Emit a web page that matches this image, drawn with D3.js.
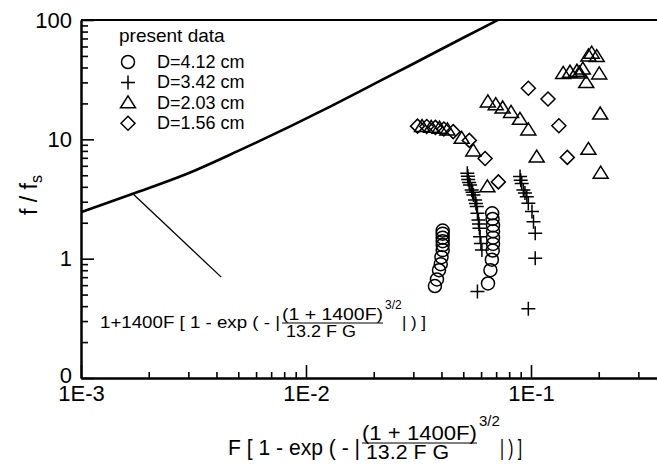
<!DOCTYPE html>
<html>
<head>
<meta charset="utf-8">
<script src="https://cdn.jsdelivr.net/npm/d3@7"></script>
<style>
  body { margin: 0; background: #fff; }
  svg { display: block; font-family: "Liberation Sans", Arial, sans-serif; }
</style>
</head>
<body>
<div id="canvas"></div>
<script>
// values: [F, f/fs]
const circles412 = [
  [0.0374, 0.59], [0.0382, 0.67], [0.0390, 0.80], [0.0397, 0.90], [0.0400, 1.03],
  [0.0405, 1.18], [0.0405, 1.30], [0.0405, 1.40], [0.0405, 1.50], [0.0405, 1.62], [0.0405, 1.72],
  [0.0644, 0.62], [0.0660, 0.80], [0.0670, 0.98], [0.0676, 1.17], [0.0678, 1.33], [0.0678, 1.50],
  [0.0678, 1.70], [0.0678, 1.90], [0.0675, 2.15], [0.0672, 2.40]
];
const crosses342 = [
  [0.0521, 5.2], [0.0524, 4.9], [0.0526, 4.6], [0.0531, 4.35], [0.0536, 4.15], [0.0545, 3.77],
  [0.0550, 3.6], [0.0555, 3.42], [0.0564, 3.10], [0.0569, 2.9], [0.0574, 2.73], [0.0578, 2.40],
  [0.0584, 2.11], [0.0587, 1.95], [0.0590, 1.80], [0.0594, 1.53], [0.0599, 1.34],
  [0.0605, 1.18], [0.0578, 0.53],
  [0.0894, 4.87], [0.0900, 4.55], [0.0909, 4.27], [0.0925, 3.77], [0.0940, 3.55], [0.0958, 3.31],
  [0.0973, 2.91], [0.1010, 2.48], [0.1026, 2.04], [0.1044, 1.63], [0.1044, 1.01], [0.0973, 0.38]
];
const triangles203 = [
  [0.0328, 12.8], [0.0360, 12.6], [0.0392, 12.4], [0.0425, 12.0], [0.0492, 10.2], [0.0554, 8.0],
  [0.0640, 4.0],
  [0.0643, 20.6], [0.0697, 19.5], [0.0748, 18.3], [0.0815, 16.8], [0.0893, 14.7], [0.0973, 12.0],
  [0.106, 7.1],
  [0.139, 35.7], [0.149, 36.5], [0.160, 37.2], [0.164, 36.0], [0.170, 38.8], [0.176, 29.9],
  [0.180, 50.0], [0.186, 52.7], [0.196, 49.4], [0.201, 35.3], [0.203, 16.3], [0.180, 8.25], [0.204, 5.2]
];
const diamonds156 = [
  [0.0313, 12.9], [0.0344, 12.8], [0.0376, 12.6], [0.0410, 12.2], [0.0451, 11.6], [0.0532, 9.8],
  [0.0625, 6.9], [0.0716, 4.4],
  [0.0973, 26.8], [0.119, 21.8], [0.133, 13.0], [0.145, 7.06]
];
// thick curve 1+1400F[...], read at a few F
const curvePts = [
  [0.001, 2.45], [0.0017, 3.5], [0.003, 5.2], [0.005, 8.0], [0.0128, 18.8],
  [0.02, 29], [0.03, 43], [0.05, 71], [0.069, 97], [0.08, 112]
];
const legendLabels = ['D=4.12 cm', 'D=3.42 cm', 'D=2.03 cm', 'D=1.56 cm'];
const xMajor = [1e-3, 1e-2, 1e-1];
const xMajorLabels = ['1E-3', '1E-2', '1E-1'];
const yMajor = [0.1, 1, 10, 100];
const yMajorLabels = ['0', '1', '10', '100'];

const width = 657;
const height = 464;
const margin = { top: 20, left: 81, bottom: 378 };

const svg = d3.select('#canvas')
  .append('svg')
    .attr('width', width)
    .attr('height', height);

const x = d3.scaleLog().domain([1e-3, 1]).range([margin.left, margin.left + 675]);
const y = d3.scaleLog().domain([0.1, 100]).range([margin.bottom, margin.top]);

svg.append('clipPath').attr('id', 'plot')
  .append('rect')
    .attr('x', margin.left).attr('y', margin.top)
    .attr('width', width - margin.left).attr('height', margin.bottom - margin.top);

// minor ticks
const minorX = [];
xMajor.forEach(d => { for (let k = 2; k <= 9; k++) minorX.push(d * k) });
const minorY = [];
[0.1, 1, 10].forEach(d => { for (let k = 2; k <= 9; k++) minorY.push(d * k) });

function styleAxis(g) {
  g.selectAll('path, line').attr('stroke', '#000').attr('stroke-width', 1.6);
  g.select('.domain').attr('stroke-width', 2);
}

svg.append('g')
  .attr('transform', `translate(0,${margin.bottom})`)
  .call(d3.axisBottom(x).tickValues(minorX).tickSize(-6).tickSizeOuter(0).tickFormat(''))
  .call(styleAxis);
svg.append('g')
  .attr('transform', `translate(0,${margin.bottom})`)
  .call(d3.axisBottom(x).tickValues(xMajor).tickSize(-13).tickSizeOuter(0).tickPadding(7)
    .tickFormat((d, i) => xMajorLabels[i]))
  .call(styleAxis)
  .call(g => g.selectAll('text').attr('font-size', 22).attr('fill', '#000')
    .attr('font-family', '"Liberation Sans", Arial, sans-serif'));

svg.append('g')
  .attr('transform', `translate(${margin.left},0)`)
  .call(d3.axisLeft(y).tickValues(minorY).tickSize(-7).tickSizeOuter(0).tickFormat(''))
  .call(styleAxis);
svg.append('g')
  .attr('transform', `translate(${margin.left},0)`)
  .call(d3.axisLeft(y).tickValues(yMajor).tickSize(-13).tickSizeOuter(0).tickPadding(9)
    .tickFormat((d, i) => yMajorLabels[i]))
  .call(styleAxis)
  .call(g => g.selectAll('text').attr('font-size', 22).attr('fill', '#000')
    .attr('font-family', '"Liberation Sans", Arial, sans-serif'))
  .call(g => g.selectAll('.tick text').filter(d => d === 0.1).attr('dy', '0.2em'));

// top frame line
svg.append('line')
  .attr('x1', margin.left).attr('x2', x(1))
  .attr('y1', y(100)).attr('y2', y(100))
  .attr('stroke', '#000').attr('stroke-width', 2);

// thick curve
svg.append('path')
  .datum(curvePts)
  .attr('clip-path', 'url(#plot)')
  .attr('fill', 'none')
  .attr('stroke', '#000')
  .attr('stroke-width', 2.6)
  .attr('d', d3.line().x(d => x(d[0])).y(d => y(d[1])).curve(d3.curveMonotoneX));

// pointer line to the formula
svg.append('line')
  .attr('x1', x(0.0017)).attr('y1', y(3.5))
  .attr('x2', x(0.0042)).attr('y2', y(0.7))
  .attr('stroke', '#000').attr('stroke-width', 1.3);

// markers
const shapes = {
  circle: 'M6.5,0A6.5,6.5 0 1,1 -6.5,0A6.5,6.5 0 1,1 6.5,0Z',
  cross: 'M-7,0H7M0,-7V7',
  triangle: 'M0,-7L7.5,5H-7.5Z',
  diamond: 'M0,-7L7,0L0,7L-7,0Z'
};
const series = [
  { data: circles412, shape: shapes.circle },
  { data: crosses342, shape: shapes.cross },
  { data: triangles203, shape: shapes.triangle },
  { data: diamonds156, shape: shapes.diamond }
];
series.forEach(s => {
  svg.append('g').selectAll('path')
    .data(s.data)
    .enter()
    .append('path')
      .attr('transform', d => `translate(${x(d[0])},${y(d[1])})`)
      .attr('d', s.shape)
      .attr('fill', 'none')
      .attr('stroke', '#000')
      .attr('stroke-width', 1.5);
});

// legend
const legend = svg.append('g');
legend.append('text')
  .attr('x', 119).attr('y', 42)
  .attr('font-size', 19)
  .text('present data');
series.forEach((s, i) => {
  const cy = 62 + i * 20.4;
  legend.append('path')
    .attr('transform', `translate(128,${cy})`)
    .attr('d', s.shape)
    .attr('fill', 'none').attr('stroke', '#000').attr('stroke-width', 1.5);
  legend.append('text')
    .attr('x', 157).attr('y', cy + 6)
    .attr('font-size', 18)
    .text(legendLabels[i]);
});

// formula: lead text, fraction, power, closing brackets
function formula(g, o) {
  g.append('text').attr('x', o.x).attr('y', o.base).attr('font-size', o.fs)
    .attr('textLength', o.leadW).attr('lengthAdjust', 'spacingAndGlyphs')
    .text(o.lead + ' [ 1 - exp ( - |');
  g.append('text').attr('x', o.fx).attr('y', o.numBase).attr('font-size', o.ffs)
    .attr('textLength', o.numW).attr('lengthAdjust', 'spacingAndGlyphs')
    .text('(1 + 1400F)');
  g.append('line').attr('x1', o.fx).attr('x2', o.fx + o.numW)
    .attr('y1', o.lineY).attr('y2', o.lineY).attr('stroke', '#000').attr('stroke-width', 1.2);
  g.append('text').attr('x', o.fx + 4).attr('y', o.denBase).attr('font-size', o.ffs)
    .attr('textLength', o.denW).attr('lengthAdjust', 'spacingAndGlyphs')
    .text('13.2 F G');
  g.append('text').attr('x', o.fx + o.numW + 2).attr('y', o.supBase).attr('font-size', o.sfs)
    .text('3/2');
  g.append('text').attr('x', o.closeX).attr('y', o.base).attr('font-size', o.fs)
    .attr('textLength', o.closeW).attr('lengthAdjust', 'spacingAndGlyphs')
    .text('| ) ]');
}

formula(svg.append('g'), {
  lead: '1+1400F', x: 100, base: 328, fs: 17, leadW: 180,
  fx: 282, numBase: 320, numW: 101, lineY: 323, denBase: 337, denW: 70, ffs: 16,
  supBase: 309, sfs: 12, closeX: 402, closeW: 24
});

formula(svg.append('g'), {
  lead: 'F', x: 228, base: 455, fs: 22, leadW: 132,
  fx: 362, numBase: 440, numW: 115, lineY: 443, denBase: 459, denW: 83, ffs: 20,
  supBase: 426, sfs: 15, closeX: 500, closeW: 22
});

// y title
const yt = svg.append('text')
  .attr('transform', 'translate(37,195) rotate(-90)')
  .attr('text-anchor', 'middle')
  .attr('font-size', 23);
yt.append('tspan').text('f / f');
yt.append('tspan').attr('dy', 5).attr('font-size', 16).text('s');
</script>
</body>
</html>
